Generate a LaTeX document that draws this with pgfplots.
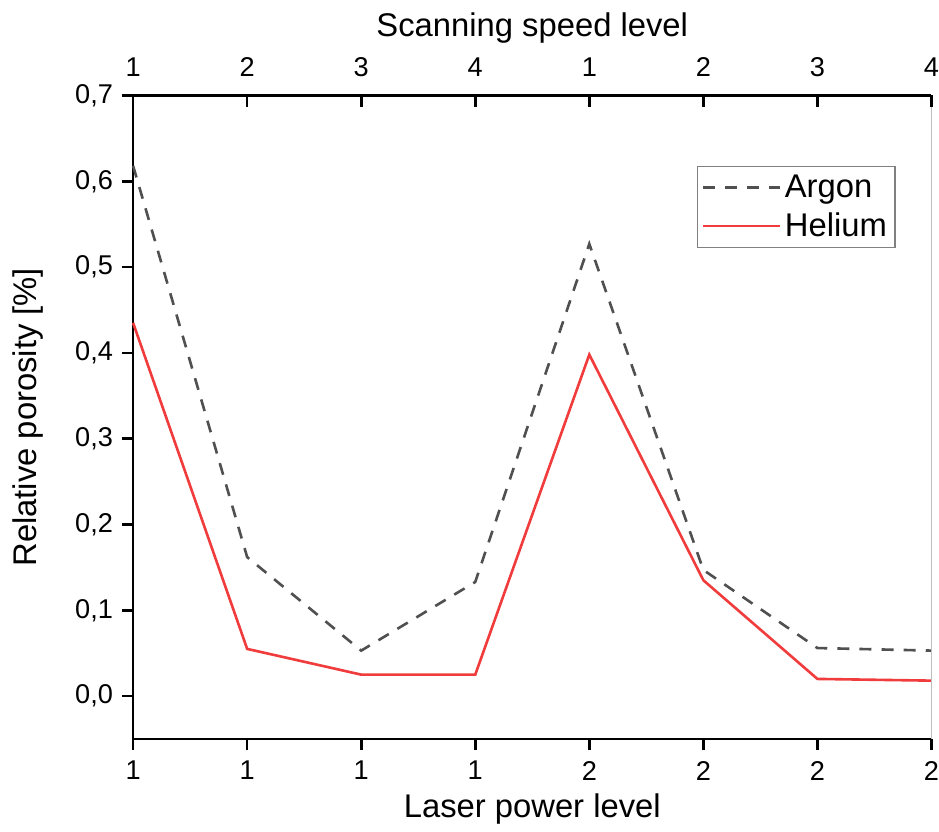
\documentclass[border=0pt]{standalone}
\usepackage{fontspec}
\setmainfont{Liberation Sans}
\usepackage{pgfplots}
\pgfplotsset{compat=1.18}

\definecolor{argon}{RGB}{80,80,80}
\definecolor{helium}{RGB}{240,60,60}

\pgfplotsset{
  levelaxis/.style={
    scale only axis,
    width=397pt, height=320pt,
    xmin=0, xmax=7,
    ymin=-0.05, ymax=0.7,
    axis line style={line width=1.3pt, -},
    every tick/.style={black, line width=1.3pt},
    major tick length=5.5pt,
    xtick={0,...,7},
    xticklabel style={inner xsep=0pt, /pgf/number format/assume math mode=true},
    tick label style={font=\fontsize{13.5}{15}\selectfont},
    label style={font=\fontsize{16.3}{19}\selectfont},
  },
}

\begin{document}
\begin{tikzpicture}
  \begin{axis}[
      levelaxis,
      axis x line*=bottom,
      axis y line*=left,
      xtick align=outside,
      ytick align=outside,
      xticklabels={1,1,1,1,2,2,2,2},
      xticklabel style={yshift=-2pt},
      ytick={0,0.1,...,0.7},
      yticklabel style={xshift=-1pt, /pgf/number format/.cd, use comma, fixed, fixed zerofill, precision=1, assume math mode=true},
      xlabel={Laser power level},
      ylabel={Relative porosity [\%]},
      ylabel shift=9pt,
      legend style={at={(0.955,0.89)}, anchor=north east, draw=gray, line width=0.6pt,
        font=\fontsize{16.3}{19}\selectfont, row sep=2pt, inner xsep=2pt},
      legend cell align=left,
      legend image code/.code={\draw[#1, line width=1.3pt] (0pt,0pt) -- (38pt,0pt);},
      clip=false,
    ]
    \addplot[argon, line width=1.3pt, dash pattern=on 6pt off 5pt] coordinates {
      (0,0.618) (1,0.162) (2,0.053) (3,0.133) (4,0.527) (5,0.147) (6,0.056) (7,0.053)};
    \addplot[helium, line width=1.3pt] coordinates {
      (0,0.435) (1,0.055) (2,0.025) (3,0.025) (4,0.398) (5,0.135) (6,0.020) (7,0.018)};
    \legend{Argon, Helium}
    \draw[gray!50, line width=0.8pt] (rel axis cs:1,0) -- (rel axis cs:1,1);
  \end{axis}
  \begin{axis}[
      levelaxis,
      axis x line*=top,
      axis y line=none,
      xtick align=inside,
      xticklabels={1,2,3,4,1,2,3,4},
      xticklabel style={yshift=6pt},
      xlabel={Scanning speed level},
    ]
  \end{axis}
  % a little extra white room left and top, as in the original
  \path ([xshift=-3pt]current bounding box.west) ([yshift=3pt]current bounding box.north);
\end{tikzpicture}
\end{document}
